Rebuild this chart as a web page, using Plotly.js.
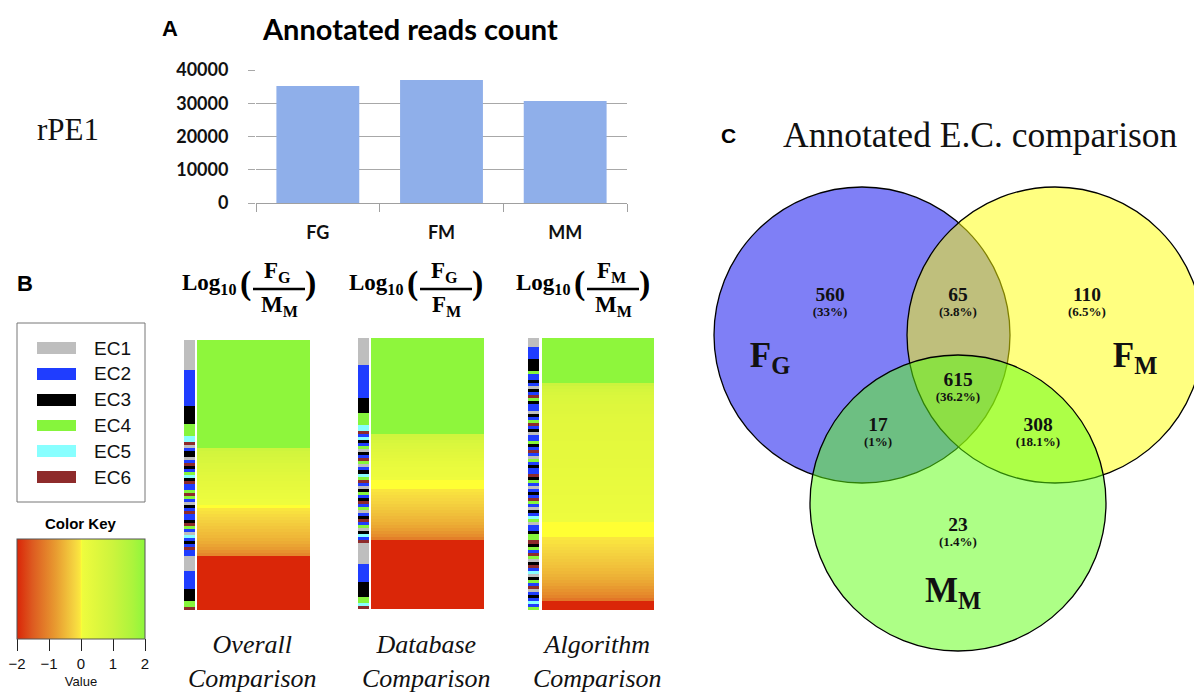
<!DOCTYPE html>
<html><head><meta charset="utf-8">
<script src="https://cdn.plot.ly/plotly-3.0.1.min.js"></script>
<style>html,body{margin:0;padding:0;background:#fff}#chart{width:1194px;height:695px}</style>
</head><body><div id="chart"></div>
<script>
// ================= DATA =================
const rep = (v, n) => Array(n).fill(v);

// Panel A : annotated reads count
const samples = ['FG', 'FM', 'MM'];
const readCounts = [35200, 37000, 30700];
const countTicks = [0, 10000, 20000, 30000, 40000];

// Panel B : EC classes
const ecNames = ['EC1', 'EC2', 'EC3', 'EC4', 'EC5', 'EC6'];
const ecCodes = [1, 2, 3, 4, 5, 6];
const ecColors = ['#BEBEBE', '#1F3DFF', '#000000', '#86F53C', '#88FFFF', '#8E2B2B'];

const comparisonNames = ['Overall', 'Database', 'Algorithm'];
const numerators = ['F<sub>G</sub>', 'F<sub>G</sub>', 'F<sub>M</sub>'];
const denominators = ['M<sub>M</sub>', 'F<sub>M</sub>', 'M<sub>M</sub>'];
const keyTicks = [-2, -1, 0, 1, 2];

// log10 ratios per EC row (sorted), one column per comparison
const overallVals = [...rep(2, 36),
  0.95, 0.85, 0.78, 0.72, 0.66, 0.6, 0.55, 0.5, 0.45, 0.4, 0.36, 0.32, 0.28, 0.24, 0.2, 0.16, 0.12, 0.08, 0.04,
  0,
  -0.05, -0.1, -0.15, -0.2, -0.25, -0.3, -0.35, -0.4, -0.45, -0.5, -0.56, -0.62, -0.7, -0.78, -0.88, -1.0,
  ...rep(-2, 18)];
const overallEC = [...rep(1, 10), ...rep(2, 12), ...rep(3, 6), ...rep(4, 4), ...rep(5, 2),
  6, 1, 2, 3, 3, 1, 2, 6, 3, 2, 4, 5, 3, 6, 2, 2, 4, 6, 4, 2, 1, 3, 2, 6, 2, 2, 3, 6, 4, 2, 1, 5, 2, 3, 2, 6, 2, 2,
  ...rep(1, 5), ...rep(2, 6), ...rep(3, 4), ...rep(4, 2), 6];

const databaseVals = [...rep(2, 32),
  0.9, 0.8, 0.7, 0.62, 0.55, 0.48, 0.42, 0.36, 0.31, 0.26, 0.21, 0.17, 0.13, 0.09, 0.05,
  0, 0, 0,
  -0.05, -0.1, -0.14, -0.18, -0.22, -0.27, -0.32, -0.37, -0.42, -0.48, -0.54, -0.6, -0.67, -0.75, -0.84, -0.95, -1.1,
  ...rep(-2, 23)];
const databaseEC = [...rep(1, 9), ...rep(2, 11), ...rep(3, 5), ...rep(4, 4), ...rep(5, 2),
  6, 2, 5, 3, 2, 4, 1, 3, 2, 6, 4, 1, 2, 3, 5, 4, 6, 2, 1, 3, 4, 2, 3, 6, 2, 4, 1, 2, 3, 6, 2, 4, 1, 3, 5, 2, 6,
  ...rep(1, 7), ...rep(2, 6), ...rep(3, 5), ...rep(4, 2), 5, 6];

const algorithmVals = [...rep(2, 15),
  1.0, 0.85, 0.75, 0.68, 0.62, 0.58, 0.55, 0.52, 0.5, 0.48, 0.46, 0.44, 0.42, 0.41, 0.4, 0.39, 0.38, 0.37, 0.36, 0.35,
  0.34, 0.33, 0.32, 0.31, 0.3, 0.29, 0.28, 0.27, 0.26, 0.25, 0.24, 0.23, 0.22, 0.21, 0.2, 0.19, 0.18, 0.17, 0.16, 0.15,
  0.14, 0.12, 0.1, 0.08, 0.06, 0.04,
  0, 0, 0, 0, 0,
  -0.04, -0.08, -0.12, -0.16, -0.2, -0.24, -0.28, -0.32, -0.36, -0.4, -0.45, -0.5, -0.55, -0.6, -0.66, -0.72, -0.8, -0.88, -0.96, -1.05, -1.2,
  ...rep(-2, 3)];
const algorithmEC = [...rep(1, 3), ...rep(2, 4), ...rep(3, 4), 4,
  2, 2, 3, 2, 1, 3, 2, 6, 4, 3, 2, 2, 1, 3, 2, 4, 6, 2, 3, 1, 2, 2, 4, 3, 2, 6, 2, 1, 4, 2, 3, 2, 2, 6, 3, 4, 2, 1, 2, 3, 2, 6, 4, 2, 1, 3, 2, 5, 4,
  1, 2, 2, 3, 4,
  4, 6, 3, 4, 2, 6, 4, 1, 3, 6, 2, 5, 1, 3, 4, 2, 6, 1, 2, 3, 2, 5, 2, 4];

const panelVals = [overallVals, databaseVals, algorithmVals];
const panelEC = [overallEC, databaseEC, algorithmEC];

// Panel C : Venn counts (FG only, FG&FM, FM only, FG&MM, all three, FM&MM, MM only)
const vennCounts = [560, 65, 110, 17, 615, 308, 23];
const vennSets = ['F<sub>G</sub>', 'F<sub>M</sub>', 'M<sub>M</sub>'];

// ================= LAYOUT HELPERS =================
const W = 1194, H = 695;
const X = p => p / W, Y = p => 1 - p / H;
const SERIF = 'Liberation Serif', SANS = 'Liberation Sans';

const heatScale = [[0, '#DA2608'], [0.12, '#DD5A20'], [0.3, '#E89A30'], [0.45, '#F5D540'], [0.495, '#FBE83E'],
  [0.5, '#FFFF33'], [0.51, '#EEFC3E'], [0.6, '#E2F83D'], [0.75, '#CCF43D'], [0.9, '#ADF43C'], [1, '#8EF63C']];
const ecScale = [];
ecColors.forEach((c, i) => { ecScale.push([i / 6, c]); ecScale.push([(i + 1) / 6, c]); });

const hmGeom = [
  {side: [184, 195], main: [197, 310], y: [340, 610]},
  {side: [358, 369], main: [371, 484], y: [338, 609]},
  {side: [528, 539], main: [542, 654], y: [338, 610]}
];
const titleOffsets = [0, 167, 334];

function blankAxis(domain, anchor, extra) {
  return Object.assign({domain, anchor, showgrid: false, zeroline: false, showticklabels: false,
    ticks: '', showline: false, fixedrange: true}, extra || {});
}

const traces = [];
const layout = {
  width: W, height: H, margin: {l: 0, r: 0, t: 0, b: 0}, paper_bgcolor: '#fff', plot_bgcolor: 'rgba(0,0,0,0)',
  showlegend: false, annotations: [], shapes: []
};

// ---------- Panel A ----------
traces.push({type: 'bar', x: samples, y: readCounts, xaxis: 'x', yaxis: 'y',
  marker: {color: '#8FAFEA', line: {width: 0}}, hoverinfo: 'x+y'});
layout.bargap = 0.33;
layout.xaxis = {domain: [X(256), X(627)], anchor: 'y', type: 'category', showline: true, linecolor: '#A0A0A0',
  linewidth: 1, ticks: 'outside', tickson: 'boundaries', ticklen: 8, tickcolor: '#A0A0A0',
  tickfont: {family: 'Lato', size: 18, weight: 'bold', color: '#111'}, ticklabelstandoff: 13, fixedrange: true};
layout.yaxis = {domain: [Y(203), Y(70)], anchor: 'x', range: [0, 40000], tickvals: countTicks, tickformat: 'd',
  showgrid: true, gridcolor: '#A8A8A8', zeroline: false, showline: false, ticks: 'outside', ticklen: 7,
  tickcolor: '#A8A8A8', tickfont: {family: 'Lato', size: 18, weight: 'bold', color: '#111'},
  ticklabelstandoff: 16, fixedrange: true};

// ---------- Panel B heatmaps ----------
hmGeom.forEach((g, k) => {
  const sx = 'x' + (2 + 2 * k), sy = 'y' + (2 + 2 * k), mx = 'x' + (3 + 2 * k), my = 'y' + (3 + 2 * k);
  const n = panelVals[k].length;
  const rows = panelVals[k].map((_, i) => i);
  traces.push({type: 'heatmap', x: [0], y: rows, z: panelEC[k].map(v => [v]), xaxis: sx, yaxis: sy,
    colorscale: ecScale, zmin: 0.5, zmax: 6.5, showscale: false, hoverinfo: 'z'});
  const main = {type: 'heatmap', x: [0], y: rows, z: panelVals[k].map(v => [v]), xaxis: mx, yaxis: my,
    colorscale: heatScale, zmin: -2, zmax: 2, showscale: k === 0, hoverinfo: 'z'};
  if (k === 0) {
    main.colorbar = {orientation: 'h', x: X(81), xanchor: 'center', y: Y(539), yanchor: 'top',
      len: 128, lenmode: 'pixels', thickness: 100, thicknessmode: 'pixels', xpad: 0, ypad: 0,
      outlinewidth: 1, outlinecolor: '#555', ticks: 'outside', ticklen: 12, tickwidth: 1, tickcolor: '#222',
      tickvals: keyTicks, tickfont: {family: SANS, size: 15, color: '#111'},
      title: {text: 'Value', side: 'bottom', font: {family: SANS, size: 13, color: '#111'}}};
  }
  traces.push(main);
  const yr = {range: [n - 0.5, -0.5]};
  layout['xaxis' + (2 + 2 * k)] = blankAxis([X(g.side[0]), X(g.side[1])], sy, {range: [-0.5, 0.5]});
  layout['yaxis' + (2 + 2 * k)] = blankAxis([Y(g.y[1]), Y(g.y[0])], sx, yr);
  layout['xaxis' + (3 + 2 * k)] = blankAxis([X(g.main[0]), X(g.main[1])], my, {range: [-0.5, 0.5]});
  layout['yaxis' + (3 + 2 * k)] = blankAxis([Y(g.y[1]), Y(g.y[0])], mx, yr);
});

// EC legend drawn as a gapped heatmap with category tick labels
traces.push({type: 'heatmap', x: [0], y: ecNames, z: ecCodes.map(v => [v]), xaxis: 'x8', yaxis: 'y8',
  colorscale: ecScale, zmin: 0.5, zmax: 6.5, showscale: false, ygap: 14, hoverinfo: 'y'});
layout.xaxis8 = blankAxis([X(37), X(76)], 'y8', {range: [-0.5, 0.5]});
layout.yaxis8 = blankAxis([Y(490), Y(335)], 'x8', {type: 'category', autorange: 'reversed', side: 'right',
  showticklabels: true, ticklabelstandoff: 17, tickfont: {family: SANS, size: 19, color: '#111'}});

// ---------- Panel C Venn ----------
const vennCircles = [
  {cx: 862, cy: 335, r: 148, fill: 'rgba(0,0,237,0.5)'},
  {cx: 1055, cy: 335, r: 148, fill: 'rgba(255,255,1,0.5)'},
  {cx: 958, cy: 503, r: 148, fill: 'rgba(91,255,13,0.5)'}
];
vennCircles.forEach(c => layout.shapes.push({type: 'circle', xref: 'x9', yref: 'y9', layer: 'below',
  x0: c.cx - c.r, x1: c.cx + c.r, y0: c.cy - c.r, y1: c.cy + c.r, fillcolor: c.fill,
  line: {color: '#000', width: 1.3}}));
const vennPos = [[830, 297], [958, 297], [1087, 297], [878, 427], [958, 382], [1038, 427], [958, 527]];
const total = vennCounts.reduce((a, b) => a + b, 0);
const pctText = vennCounts.map(v => '(' + parseFloat((100 * v / total).toFixed(1)) + '%)');
traces.push({type: 'scatter', mode: 'text', xaxis: 'x9', yaxis: 'y9', x: vennPos.map(p => p[0]),
  y: vennPos.map(p => p[1] - 1), text: vennCounts.map(String), textposition: 'middle center',
  textfont: {family: SERIF, size: 19.5, weight: 'bold', color: '#111'}, hoverinfo: 'skip'});
traces.push({type: 'scatter', mode: 'text', xaxis: 'x9', yaxis: 'y9', x: vennPos.map(p => p[0]),
  y: vennPos.map(p => p[1] + 16), text: pctText, textposition: 'middle center',
  textfont: {family: SERIF, size: 13, weight: 'bold', color: '#111'}, hoverinfo: 'skip'});
const setPos = [[770, 358], [1135, 358], [953, 593]];
traces.push({type: 'scatter', mode: 'text', xaxis: 'x9', yaxis: 'y9', x: setPos.map(p => p[0]),
  y: setPos.map(p => p[1]), text: vennSets, textposition: 'middle center',
  textfont: {family: SERIF, size: 35, weight: 'bold', color: '#111'}, hoverinfo: 'skip'});
layout.xaxis9 = blankAxis([X(700), 1], 'y9', {range: [700, 1194]});
layout.yaxis9 = blankAxis([0, Y(160)], 'x9', {range: [695, 160]});

// ---------- Annotations ----------
function ann(text, x, y, font, opts) {
  layout.annotations.push(Object.assign({text, x: X(x), y: Y(y), xref: 'paper', yref: 'paper',
    showarrow: false, font, xanchor: 'center', yanchor: 'middle'}, opts || {}));
}
ann('A', 170, 28, {family: SANS, size: 22, weight: 'bold', color: '#000'});
ann('Annotated reads count', 410, 28, {family: 'Lato', size: 29, weight: 'bold', color: '#000'});
ann('rPE1', 68, 130, {family: SERIF, size: 31, color: '#111'});
ann('B', 25, 283, {family: SANS, size: 22, weight: 'bold', color: '#000'});
ann('Color Key', 81, 523, {family: SANS, size: 15, weight: 'bold', color: '#000'});
ann('C', 728, 135, {family: SANS, size: 21, weight: 'bold', color: '#000'});
ann('Annotated E.C. comparison', 980, 135, {family: SERIF, size: 35.5, color: '#111'});

// EC legend frame
layout.shapes.push({type: 'rect', xref: 'paper', yref: 'paper', x0: X(17), x1: X(145), y0: Y(502), y1: Y(323),
  line: {color: '#777', width: 1}, fillcolor: 'rgba(0,0,0,0)'});

// heatmap headings (log ratio fractions) and captions
const mathFont = {family: SERIF, size: 23, weight: 'bold', color: '#000'};
titleOffsets.forEach((o, k) => {
  ann('Log<sub>10</sub>', 238 + o, 284, mathFont, {xanchor: 'right'});
  ann('(', 245 + o, 283, {family: SERIF, size: 34, weight: 'bold', color: '#000'});
  ann(numerators[k], 277 + o, 272, mathFont);
  ann(denominators[k], 279 + o, 306, mathFont);
  ann(')', 310 + o, 283, {family: SERIF, size: 34, weight: 'bold', color: '#000'});
  layout.shapes.push({type: 'line', xref: 'paper', yref: 'paper', x0: X(253 + o), x1: X(305 + o),
    y0: Y(289), y1: Y(289), line: {color: '#000', width: 2.5}});
  const g = hmGeom[k];
  ann(comparisonNames[k] + '<br>Comparison', (g.main[0] + g.main[1]) / 2 - 1, 661,
    {family: SERIF, size: 26, style: 'italic', color: '#111'});
});

Plotly.newPlot('chart', traces, layout, {staticPlot: true, displayModeBar: false});
</script>
</body></html>
